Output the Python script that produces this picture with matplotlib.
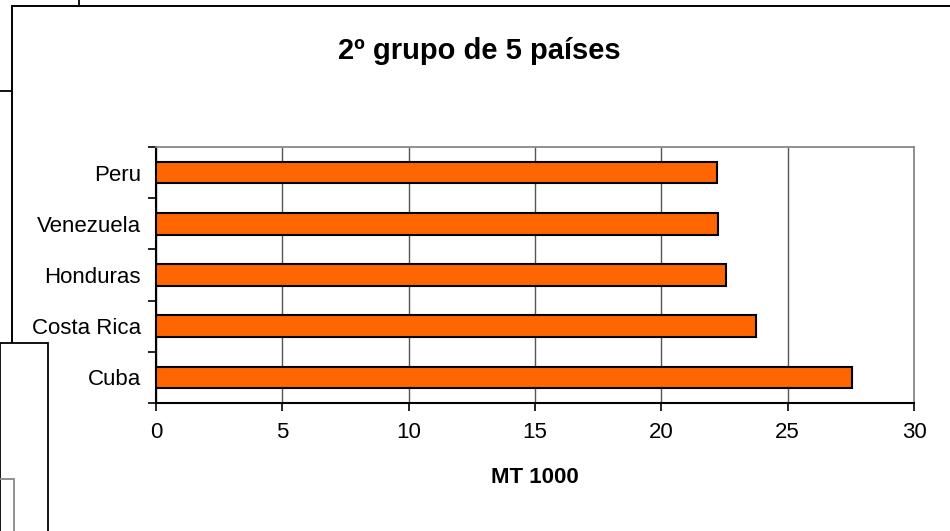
import matplotlib
matplotlib.use("Agg")
import matplotlib.pyplot as plt
from matplotlib.patches import Rectangle
from matplotlib.lines import Line2D

plt.rcParams['font.family'] = ['Liberation Sans', 'DejaVu Sans']

# data (bottom to top, as drawn)
paises = ['Cuba', 'Costa Rica', 'Honduras', 'Venezuela', 'Peru']
valores = [27.55, 23.75, 22.55, 22.25, 22.2]
x_ticks = [0, 5, 10, 15, 20, 25, 30]

W, H = 950, 531
fig = plt.figure(figsize=(W / 100, H / 100), dpi=100)
fig.patch.set_facecolor('white')


def fx(x):
    return x / W


def fy(y):
    return 1 - y / H


# chart frame and the stray boxes behind/over it
fig.add_artist(Line2D([fx(79), fx(79)], [fy(0), fy(6)], color='black', lw=1.3))
fig.add_artist(Line2D([fx(0), fx(12)], [fy(91), fy(91)], color='black', lw=1.3))
fig.add_artist(Rectangle((fx(12), fy(560)), fx(1000) - fx(12), fy(6) - fy(560),
                         fill=False, edgecolor='black', lw=1.4))

ax = fig.add_axes([156 / W, 1 - 403 / H, (914 - 156) / W, (403 - 147) / H])
ypos = range(len(paises))
ax.barh(ypos, valores, height=0.42, color='#FF6600', edgecolor='black', linewidth=1.5, zorder=3)

ax.set_xlim(0, 30)
ax.set_ylim(-0.5, len(paises) - 0.5)
ax.set_xticks(x_ticks)
ax.set_xticklabels([str(t) for t in x_ticks], fontsize=16)
ax.set_yticks(list(ypos))
ax.set_yticklabels(paises, fontsize=16)
ax.set_yticks([i - 0.5 for i in range(len(paises) + 1)], minor=True)
ax.tick_params(axis='y', which='major', length=0, pad=11)
ax.tick_params(axis='y', which='minor', length=6, width=1.2, direction='out', color='black')
ax.tick_params(axis='x', length=6, width=1.2, direction='out', color='black', pad=8)

ax.grid(axis='x', color='#555555', lw=1, zorder=0)
for s in ['top', 'right']:
    ax.spines[s].set_color('#888888')
    ax.spines[s].set_linewidth(1.3)
for s in ['left', 'bottom']:
    ax.spines[s].set_color('black')
    ax.spines[s].set_linewidth(1.5)

ax.set_xlabel('MT 1000', fontsize=16, fontweight='bold', labelpad=17)
fig.text(fx(479), fy(51), '2º grupo de 5 países', fontsize=21, fontweight='bold',
         ha='center', va='center')

# box overlapping the lower-left corner
fig.add_artist(Rectangle((fx(0), fy(560)), fx(48), fy(343) - fy(560),
                         facecolor='white', edgecolor='black', lw=1.3))
fig.add_artist(Rectangle((fx(-5), fy(560)), fx(19), fy(479) - fy(560),
                         fill=False, edgecolor='#888888', lw=1.3))

fig.savefig('out.png', dpi=100)
